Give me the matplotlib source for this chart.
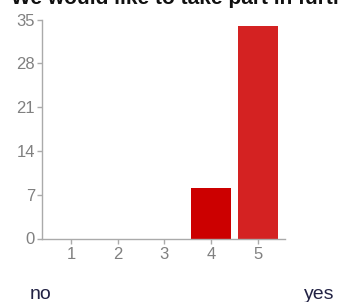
import matplotlib
matplotlib.use("Agg")
import matplotlib.pyplot as plt

categories = [1, 2, 3, 4, 5]
values = [0, 0, 0, 8, 34]
bar_colors = ["#cc0000", "#cc0000", "#cc0000", "#cc0000", "#d42222"]
yticks = [0, 7, 14, 21, 28, 35]
title = "We would like to take part in further research"
low_label = "no"
high_label = "yes"

W, H = 338, 302
fig = plt.figure(figsize=(W / 100, H / 100), dpi=100)
plt.rcParams['font.family'] = ['Liberation Sans', 'DejaVu Sans']

x0, x1 = 42, 285
y0, y1 = 238.5, 19.5
ax = fig.add_axes([x0 / W, 1 - y0 / H, (x1 - x0) / W, (y0 - y1) / H])
ax.bar(categories, values, width=0.85, color=bar_colors)
ax.set_xlim(0.38, 5.58)
ax.set_ylim(0, 35)
ax.set_xticks(categories)
ax.set_yticks(yticks)
for s in ["top", "right"]:
    ax.spines[s].set_visible(False)
for s in ["left", "bottom"]:
    ax.spines[s].set_color("#aaaaaa")
    ax.spines[s].set_linewidth(1)
ax.tick_params(axis="both", colors="#aaaaaa", labelcolor="#808080",
               labelsize=12, length=3.5, width=1, pad=1.5)
ax.tick_params(axis="x", pad=2.5)

fig.text(11 / W, 1 - 4.5 / H, title, fontsize=15, fontweight="bold",
         color="#111111", ha="left", va="baseline")
fig.text(30 / W, 1 - 299 / H, low_label, fontsize=14, color="#222244",
         ha="left", va="baseline")
fig.text(334 / W, 1 - 299 / H, high_label, fontsize=14, color="#222244",
         ha="right", va="baseline")

fig.savefig("out.png", dpi=100)
